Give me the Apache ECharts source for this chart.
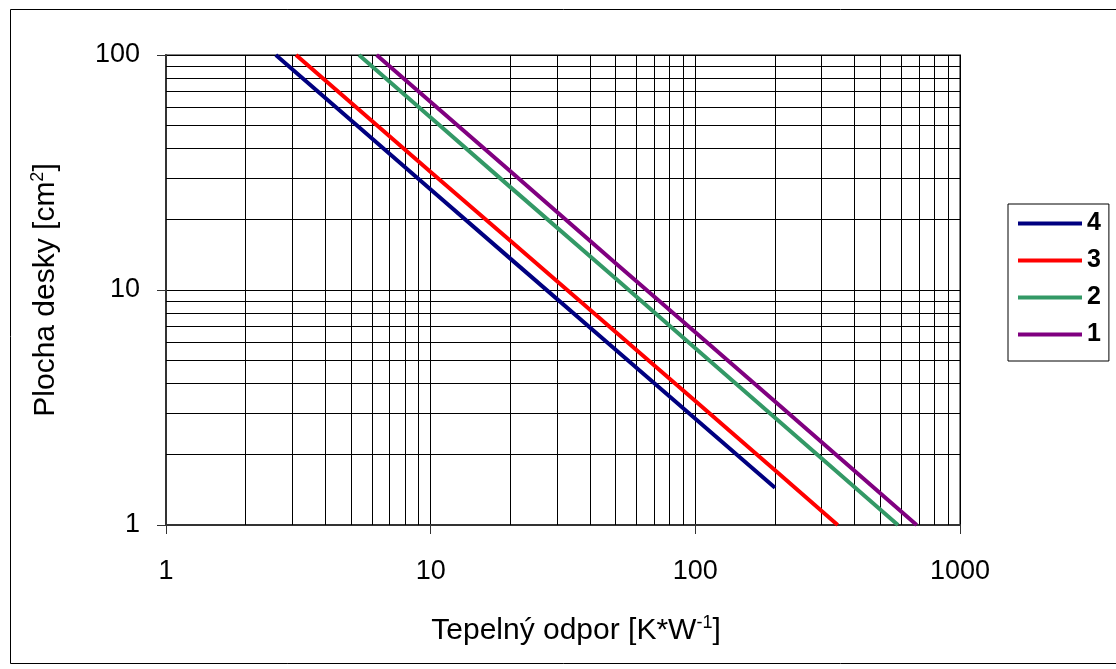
<!DOCTYPE html>
<html>
<head>
<meta charset="utf-8">
<script src="https://cdn.jsdelivr.net/npm/echarts@6/dist/echarts.min.js"></script>
<style>
  html, body { margin: 0; padding: 0; background: #fff; }
  #chart { width: 1116px; height: 669px; }
</style>
</head>
<body>
<div id="chart"></div>
<script>
// hodnoty (x = tepelný odpor, y = plocha desky)
const names = ['4', '3', '2', '1'];
const colors = ['#000080', '#FF0000', '#339966', '#800080'];

const x4 = [2.6, 5, 10, 20, 50, 100, 200];
const y4 = [100, 52.8, 26.8, 13.6, 5.57, 2.83, 1.44];

const x3 = [3.1, 5, 10, 20, 50, 100, 200, 345];
const y3 = [100, 62.7, 31.8, 16.2, 6.62, 3.37, 1.71, 1.0];

const x2 = [5.36, 10, 20, 50, 100, 200, 583];
const y2 = [100, 54.2, 27.4, 11.2, 5.65, 2.86, 1.0];

const x1 = [6.25, 10, 20, 50, 100, 200, 686];
const y1 = [100, 63.1, 32.0, 13.0, 6.61, 3.35, 1.0];

// vedlejší mřížka
const xMinorGrid = [2, 3, 4, 5, 6, 7, 8, 9, 20, 30, 40, 50, 60, 70, 80, 90, 200, 300, 400, 500, 600, 700, 800, 900];
const yMinorGrid = [2, 3, 4, 5, 6, 7, 8, 9, 20, 30, 40, 50, 60, 70, 80, 90];

const font = '"Liberation Sans", Arial, sans-serif';

const pairs = (xs, ys) => xs.map((v, i) => [v, ys[i]]);
const allX = [x4, x3, x2, x1];
const allY = [y4, y3, y2, y1];

const chart = echarts.init(document.getElementById('chart'));

const dataSeries = names.map((n, i) => ({
  name: n,
  type: 'line',
  data: pairs(allX[i], allY[i]),
  showSymbol: false,
  symbol: 'none',
  lineStyle: { color: colors[i], width: 4 },
  itemStyle: { color: colors[i] },
  z: 5,
  animation: false
}));

const gridSeries = {
  name: 'grid',
  type: 'line',
  data: [],
  silent: true,
  z: 1,
  markLine: {
    silent: true,
    symbol: ['none', 'none'],
    label: { show: false },
    animation: false,
    z: 1,
    lineStyle: { color: '#000', width: 1, type: 'solid' },
    data: xMinorGrid.map(v => ({ xAxis: v })).concat(yMinorGrid.map(v => ({ yAxis: v })))
  }
};

const supStyle = { fontFamily: font, fontSize: 18, verticalAlign: 'top', padding: [0, 0, 15, 0] };

const option = {
  backgroundColor: '#fff',
  animation: false,
  textStyle: { fontFamily: font },
  graphic: [{
    type: 'rect',
    left: 8, top: 7,
    shape: { width: 1120, height: 654 },
    style: { fill: 'none', stroke: '#000', lineWidth: 1 },
    silent: true
  }],
  grid: {
    left: 166, top: 55, width: 794, height: 470,
    show: true, borderColor: '#808080', borderWidth: 2,
    backgroundColor: 'transparent'
  },
  legend: {
    data: names,
    orient: 'vertical',
    left: 1008, top: 204,
    icon: 'rect',
    itemWidth: 64, itemHeight: 4,
    itemGap: 12,
    padding: [7, 8, 14, 10],
    borderColor: '#000', borderWidth: 1,
    backgroundColor: '#fff',
    textStyle: { fontFamily: font, fontSize: 25, fontWeight: 'bold', color: '#000', lineHeight: 23 }
  },
  xAxis: {
    type: 'log', logBase: 10, min: 1, max: 1000,
    name: 'Tepelný odpor [K*W{sup|-1}]',
    nameLocation: 'middle', nameGap: 89,
    nameTextStyle: {
      fontFamily: font, fontSize: 30, color: '#000', padding: [0, 0, 0, 26],
      rich: { sup: supStyle }
    },
    axisLine: { lineStyle: { color: '#333', width: 2 } },
    axisTick: { show: true, inside: false, length: 9, lineStyle: { color: '#333', width: 1 } },
    axisLabel: { fontFamily: font, fontSize: 27, color: '#000', margin: 33, formatter: v => String(v) },
    splitLine: { show: true, lineStyle: { color: '#000', width: 1 } },
    minorTick: { show: false },
    minorSplitLine: { show: false }
  },
  yAxis: {
    type: 'log', logBase: 10, min: 1, max: 100,
    name: 'Plocha desky [cm{sup|2}]',
    nameLocation: 'middle', nameGap: 104, nameRotate: 90,
    nameTextStyle: {
      fontFamily: font, fontSize: 30, color: '#000',
      rich: { sup: supStyle }
    },
    axisLine: { show: true, lineStyle: { color: '#333', width: 2 } },
    axisTick: { show: true, inside: false, length: 9, lineStyle: { color: '#333', width: 1 } },
    axisLabel: { fontFamily: font, fontSize: 27, color: '#000', margin: 26, formatter: v => String(v) },
    splitLine: { show: true, lineStyle: { color: '#000', width: 1 } },
    minorTick: { show: false },
    minorSplitLine: { show: false }
  },
  series: [gridSeries].concat(dataSeries)
};

chart.setOption(option);
</script>
</body>
</html>
